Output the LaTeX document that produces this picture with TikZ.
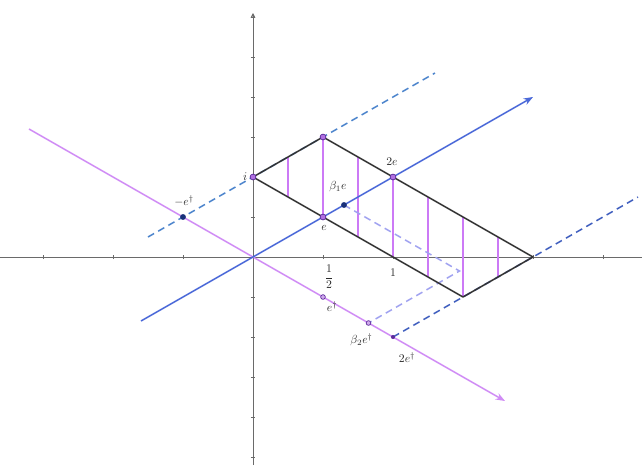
\documentclass[tikz,border=0pt]{standalone}
\usepackage{tikz}
\usetikzlibrary{arrows.meta, calc, positioning}
\usepackage{xcolor}
\usepackage{amsmath}
\definecolor{AxisG} {HTML}{6A6A6A}
\definecolor{LineB} {HTML}{4A68D8}
\definecolor{LineP} {HTML}{D08CF5}
\definecolor{Hatch} {HTML}{CC7AF6}
\definecolor{DashS} {HTML}{4C84CC}
\definecolor{DashD} {HTML}{3F5EBE}
\definecolor{DashL} {HTML}{A0A2F0}
\definecolor{PtP}   {HTML}{B070E0}
\definecolor{PtPD}  {HTML}{5A2A9A}
\definecolor{PtN}   {HTML}{18307A}
\definecolor{Lbl}   {HTML}{2A2A2A}
\tikzset{
  axis/.style={draw=AxisG, line width=0.7pt},
  tck/.style={draw=AxisG, line width=0.5pt},
  sln/.style args={#1}{
    line width=1.3pt, color=#1,
    -{Stealth[length=8pt,width=6pt]},
  },
  dln/.style args={#1}{
    line width=1.3pt, color=#1,
    dash pattern=on 6pt off 4pt,
  },
  hatch/.style={draw=Hatch, line width=1pt},
  pedge/.style={draw=black!80, line width=1.3pt, line join=round},
  ptp/.style={circle, draw=PtPD, fill=PtP, inner sep=0pt,
    minimum size=5pt, line width=0.6pt},
  ptq/.style={circle, draw=PtPD, fill=PtP!60, inner sep=0pt,
    minimum size=4pt, line width=0.6pt},
  ptn/.style={circle, fill=PtN, inner sep=0pt, minimum size=5pt},
  lbl/.style={font=\normalsize, text=Lbl, inner sep=1pt},
}
\begin{document}
\begin{tikzpicture}[x=0.03cm,y=0.03cm]
    \useasboundingbox (-253,-208) rectangle (389,257);

    % axes
    \coordinate (xL) at (-253,0);
    \coordinate (xR) at (389,0);
    \coordinate (yB) at (0,-208);
    \coordinate (yT) at (0,244);
    \draw[axis] (xL) -- (xR);
    \draw[axis,-{Stealth[length=4pt,width=4pt]}] (yB) -- (yT);
    \foreach \tx in {-210,-140,-70,70,140,210,280,350}
      \draw[tck] (\tx,-2) -- (\tx,2);
    \foreach \ty in {-200,-160,-120,-80,-40,40,80,120,160,200,240}
      \draw[tck] (-2,\ty) -- (2,\ty);

    % points
    \coordinate (O)   at (0,0);
    \coordinate (R)   at (280,0);
    \coordinate (Bv)  at (210,-40);
    \coordinate (Q)   at (206.5,-14);
    \coordinate (bS)  at (-112,-64);
    \coordinate (bT)  at (280,160);
    \coordinate (pS)  at (-224,128);
    \coordinate (pT)  at (252,-144);
    \coordinate (d1S) at (-105,20);
    \coordinate (d1T) at (182,184);
    \coordinate (d2T) at (385,60);

    % hatching
    \foreach \xa/\ya/\yb in {35/100/60, 70/120/40, 105/100/20, 140/80/0,
                             175/60/-20, 210/40/-40, 245/20/-20}
      \draw[hatch] (\xa,\ya) -- (\xa,\yb);

    % dashed lines
    \draw[dln=DashS] (d1S) -- (d1T);
    \draw[dln=DashD] (140,-80) -- (d2T);
    \draw[dln=DashL] (91,52) -- (Q) -- (115.5,-66);

    % lines through 0
    \draw[sln=LineP] (pS) -- (pT);
    \draw[sln=LineB] (bS) -- (bT);

    % parallelogram
    \draw[pedge] (0,80) -- (70,120) -- (R) -- (Bv) -- cycle;

    \node[ptp] (pI)   at (0,80)      {};
    \node[ptp] (pIE)  at (70,120)    {};
    \node[ptp] (pE)   at (70,40)     {};
    \node[ptp] (p2E)  at (140,80)    {};
    \node[ptn] (pB1)  at (91,52)     {};
    \node[ptn] (pmEd) at (-70,40)    {};
    \node[ptq] (pEd)  at (70,-40)    {};
    \node[ptq] (pB2)  at (115.5,-66) {};
    \node[circle, fill=PtPD, inner sep=0pt, minimum size=3.5pt]
               (p2Ed) at (140,-80)   {};

    % labels
    \node[lbl, left=1pt of pI]            (lI)   {$i$};
    \node[lbl] (l2E)  at ($(p2E)+(-1,15)$)   {$2e$};
    \node[lbl] (lE)   at ($(pE)+(1,-11)$)    {$e$};
    \node[lbl] (lB1)  at ($(pB1)+(-6,18)$)   {$\beta_1 e$};
    \node[lbl] (lH)   at (76,-20)            {$\dfrac{1}{2}$};
    \node[lbl] (l1)   at (140,-16)           {$1$};
    \node[lbl] (lEd)  at ($(pEd)+(9,-10)$)   {$e^{\dagger}$};
    \node[lbl] (lB2)  at ($(pB2)+(-7,-17)$)  {$\beta_2 e^{\dagger}$};
    \node[lbl] (l2Ed) at ($(p2Ed)+(14,-21)$) {$2e^{\dagger}$};
    \node[lbl] (lmEd) at ($(pmEd)+(1,16)$)   {$-e^{\dagger}$};

  \end{tikzpicture}
\end{document}
